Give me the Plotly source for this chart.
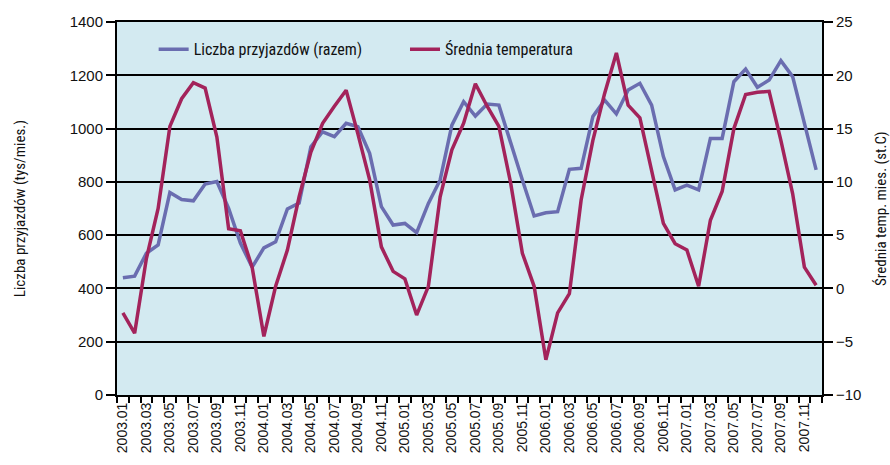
import plotly.graph_objects as go

months = [f"{y}.{m:02d}" for y in range(2003, 2008) for m in range(1, 13)]

arrivals = [440, 446, 532, 563, 760, 734, 729, 792, 801, 700, 570, 480,
            552, 575, 698, 720, 932, 988, 970, 1020, 1007, 907, 707, 638,
            644, 609, 719, 807, 1013, 1101, 1047, 1092, 1088, 945, 807, 672,
            684, 688, 847, 851, 1045, 1107, 1055, 1145, 1170, 1088, 895, 770,
            788, 770, 963, 963, 1176, 1223, 1155, 1182, 1255, 1195, 1020, 845]

temperature = [-2.3, -4.2, 2.8, 7.5, 15.2, 17.8, 19.3, 18.8, 14.2, 5.6, 5.4, 2.0,
               -4.5, 0.2, 3.6, 8.6, 12.8, 15.5, 17.1, 18.6, 14.5, 10.2, 3.9, 1.6,
               0.9, -2.5, 0.2, 8.6, 13.0, 15.5, 19.2, 17.1, 15.2, 9.9, 3.3, 0.2,
               -6.7, -2.3, -0.5, 8.3, 13.9, 18.3, 22.1, 17.2, 16.0, 11.1, 6.1, 4.2,
               3.6, 0.2, 6.4, 9.1, 15.0, 18.2, 18.4, 18.5, 13.9, 8.9, 2.0, 0.3]

left_ticks = [0, 200, 400, 600, 800, 1000, 1200, 1400]
right_ticks = [-10, -5, 0, 5, 10, 15, 20, 25]

idx = list(range(len(months)))
label_idx = idx[::2]

cond = "Liberation Sans Narrow, Arial Narrow, Roboto Condensed, sans-serif"
reg = "Liberation Sans, Arial, sans-serif"

fig = go.Figure()
fig.add_trace(go.Scatter(x=idx, y=arrivals, mode="lines",
                         name="Liczba przyjazdów (razem)", legend="legend",
                         line=dict(color="#6a6db0", width=3.5)))
fig.add_trace(go.Scatter(x=idx, y=temperature, mode="lines",
                         name="Średnia temperatura", yaxis="y2", legend="legend2",
                         line=dict(color="#a3235b", width=3.5)))

leg_common = dict(orientation="h", yanchor="middle", y=0.927,
                  bgcolor="rgba(0,0,0,0)", xanchor="left",
                  font=dict(family=cond, size=16, color="#111"))

fig.update_layout(
    width=890, height=465,
    margin=dict(l=117, r=68, t=22, b=70),
    paper_bgcolor="white",
    plot_bgcolor="#d3eaf1",
    showlegend=True,
    legend=dict(x=0.052, **leg_common),
    legend2=dict(x=0.4085, **leg_common),
    xaxis=dict(
        range=[-0.5, len(months) - 0.5], automargin=False,
        tickmode="array", tickvals=label_idx, ticktext=[months[i] for i in label_idx],
        tickangle=-90, ticks="", showgrid=False, zeroline=False,
        showline=True, linecolor="black", linewidth=2, mirror=True,
        tickfont=dict(family=reg, size=14, color="#111"),
        minor=dict(tickmode="array", tickvals=[i - 0.5 for i in idx] + [len(months) - 0.5],
                   ticks="outside", ticklen=6, tickwidth=1.5, tickcolor="black", showgrid=False),
    ),
    yaxis=dict(
        range=[0, 1400], tickmode="array", tickvals=left_ticks, automargin=False,
        ticks="outside", ticklen=9, tickwidth=1.5, tickcolor="black",
        showgrid=True, gridcolor="black", gridwidth=1.5, zeroline=False,
        showline=True, linecolor="black", linewidth=2,
        tickfont=dict(family=reg, size=15, color="#111"),
    ),
    yaxis2=dict(
        range=[-10, 25], tickmode="array", tickvals=right_ticks, automargin=False,
        overlaying="y", side="right",
        ticks="outside", ticklen=9, tickwidth=1.5, tickcolor="black",
        showgrid=False, zeroline=False,
        showline=True, linecolor="black", linewidth=2,
        tickfont=dict(family=reg, size=15, color="#111"),
    ),
    annotations=[
        dict(text="Liczba przyjazdów (tys/mies.)", textangle=-90,
             xref="paper", yref="paper", x=-0.138, y=0.5,
             xanchor="center", yanchor="middle", showarrow=False,
             font=dict(family=cond, size=15, color="#111")),
        dict(text="Średnia temp. mies. (st.C)", textangle=-90,
             xref="paper", yref="paper", x=1.083, y=0.5,
             xanchor="center", yanchor="middle", showarrow=False,
             font=dict(family=cond, size=15, color="#111")),
    ],
)

fig.write_html("out.html", config={"displayModeBar": False},
               post_script="document.body.style.margin='0';")
